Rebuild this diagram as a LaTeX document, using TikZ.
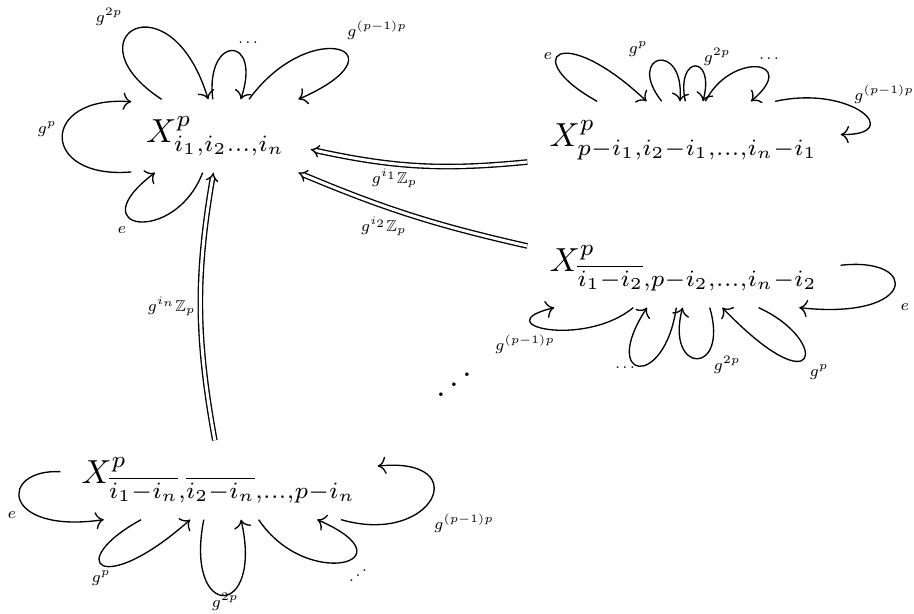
\documentclass[tikz,border=0pt]{standalone}
\usepackage{amsmath}
\usepackage{amssymb}
\usepackage{graphicx}
\usetikzlibrary{arrows.meta}

\begin{document}
\begin{tikzpicture}[
    x=0.3pt, y=-0.3pt,
    orbit/.style={
        inner sep=0pt,
        font=\normalsize
    },
    lbl/.style={
        font=\scriptsize,
        scale=0.68,
        inner sep=1pt
    },
    dotlbl/.style={inner sep=1pt},
    selfmap/.style={-{Computer Modern Rightarrow}, line width=0.4pt},
    inclusion/.style={double, double distance=0.9pt, -{Implies}}
]
\useasboundingbox (0,0) rectangle (914,614);

% the four orbits
\node[orbit, minimum width=50.4pt, minimum height=21.6pt] (A) at (216,136) {$X^p_{i_1,i_2\ldots,i_n}$};
\node[orbit, minimum width=93.6pt, minimum height=22.8pt] (B) at (684,140) {$X^p_{p-i_1,i_2-i_1,\ldots,i_n-i_1}$};
\node[orbit, minimum width=93.6pt, minimum height=23.4pt] (C) at (684,268) {$X^p_{\overline{i_1-i_2},p-i_2,\ldots,i_n-i_2}$};
\node[orbit, minimum width=94.8pt, minimum height=23.4pt] (D) at (219,480) {$X^p_{\overline{i_1-i_n},\overline{i_2-i_n},\ldots,p-i_n}$};
\node[anchor=base, inner sep=0pt] (more) at (454,400) {\reflectbox{$\ddots$}};

% maps into the first orbit
\draw[inclusion] (B.188) to[bend left=9] node[lbl, below=1pt, pos=0.62] (lab1) {$g^{i_1}\mathbb{Z}_p$} ([xshift=3pt]A.351);
\draw[inclusion] (C.172) to[bend left=5] node[lbl, below=3.5pt, pos=0.63] (lab2) {$g^{i_2}\mathbb{Z}_p$} (A.336);
\draw[inclusion] (D.96) to[bend left=10] node[lbl, left=1pt, pos=0.5] (lab3) {$g^{i_n}\mathbb{Z}_p$} (A.266);

% loops on A
\draw[selfmap] (A.203) .. controls +(-92,8) and +(-92,-7) .. (A.158);
\draw[selfmap] (A.250) .. controls +(-28,73) and +(-77,58) .. (A.211);
\draw[selfmap] (A.146) .. controls +(-95,-62) and +(-38,-125) .. (A.102.5);
\draw[selfmap] (A.95) .. controls +(-8,-65) and +(22,-65) .. (A.56);
\draw[selfmap] (A.48) .. controls +(62,-85) and +(110,-48) .. (A.24);
\node[lbl] (A1) at (47,129) {$g^p$};
\node[lbl] (A0) at (122,230) {$e$};
\node[lbl] (A2) at (109,17) {$g^{2p}$};
\node[dotlbl] (A3) at (248,43) {\scalebox{0.5}{$\ldots$}};
\node[lbl] (A4) at (377,30) {$g^{(p-1)p}$};

% loops on B
\draw[selfmap] (B.156.7) .. controls +(-78,-43) and +(-87,-82) .. (B.134);
\draw[selfmap] (B.120) .. controls +(-37,-47) and +(5,-62) .. (B.96);
\draw[selfmap] (B.88.5) .. controls +(-10,-47) and +(13,-47) .. (B.64.7);
\draw[selfmap] (B.61) .. controls +(25,-50) and +(50,-42) .. (B.30);
\draw[selfmap] (B.23.4) .. controls +(78,-17) and +(65,1) .. (B.2.2);
\node[lbl] (B0) at (548,56) {$e$};
\node[lbl] (B1) at (638,49) {$g^p$};
\node[lbl] (B2) at (717,57) {$g^{2p}$};
\node[dotlbl] (B3) at (769,59) {\scalebox{0.5}{$\ldots$}};
\node[lbl] (B4) at (884,94) {$g^{(p-1)p}$};

% loops on C
\draw[selfmap] (C.218.5) .. controls +(-50,41) and +(-70,17) .. (C.197.7);
\draw[selfmap] (C.259.8) .. controls +(-12,83) and +(-48,73) .. (C.227.3);
\draw[selfmap] (C.303.7) .. controls +(20,69) and +(-18,67) .. (C.268.5);
\draw[selfmap] (C.332.2) .. controls +(72,33) and +(98,102) .. (C.314.3);
\draw[selfmap] (C.1.5) .. controls +(80,-9) and +(118,13) .. (C.341.7);
\node[lbl] (C4) at (525,344) {$g^{(p-1)p}$};
\node[dotlbl] (C3) at (625,368) {\scalebox{0.5}{$\ldots$}};
\node[lbl] (C2) at (727,365) {$g^{2p}$};
\node[lbl] (C1) at (819,372) {$g^p$};
\node[lbl] (C0) at (905,307) {$e$};

% loops on D
\draw[selfmap] (D.177.4) .. controls +(-62,-3) and +(-103,15) .. (D.199);
\draw[selfmap] (D.207.8) .. controls +(-77,42) and +(-90,80) .. (D.234.1);
\draw[selfmap] (D.249.8) .. controls +(-20,102) and +(23,100) .. (D.299.9);
\draw[selfmap] (D.315) .. controls +(48,72) and +(97,42) .. (D.338);
\draw[selfmap] (D.342.2) .. controls +(93,27) and +(98,-10) .. (D.5.3);
\node[lbl] (D0) at (12,515) {$e$};
\node[lbl] (D1) at (101,578) {$g^p$};
\node[lbl] (D2) at (225,602) {$g^{2p}$};
\node[dotlbl, anchor=base] (D3) at (358,583) {\scalebox{0.5}{\reflectbox{$\ddots$}}};
\node[lbl] (D4) at (464,523) {$g^{(p-1)p}$};
\end{tikzpicture}
\end{document}
